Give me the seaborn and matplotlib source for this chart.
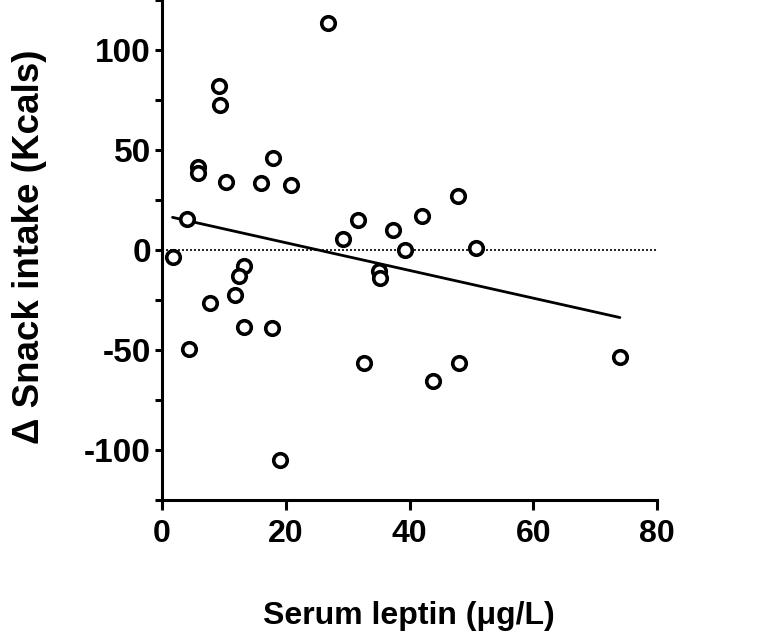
import numpy as np
import pandas as pd
import matplotlib
matplotlib.use("Agg")
import matplotlib.pyplot as plt
from matplotlib.ticker import MultipleLocator
import seaborn as sns

# Werte
leptin = [1.7, 4.0, 5.9, 5.8, 9.2, 9.3, 10.4, 16.0, 17.9, 20.9, 26.8,
          29.3, 31.6, 37.3, 42.1, 47.8, 39.3, 50.7, 35.1, 35.3, 13.3,
          12.4, 11.8, 7.8, 4.4, 13.2, 17.8, 19.0, 32.6, 43.8, 48.0, 74.0]
snack = [-3.7, 15.7, 41.6, 38.6, 81.8, 72.6, 34.1, 33.6, 46.2, 32.6, 113.4,
         5.5, 15.0, 10.2, 16.9, 27.2, -0.2, 1.0, -10.7, -14.2, -8.0,
         -13.0, -22.3, -26.4, -49.7, -38.3, -38.8, -105.1, -56.4, -65.6, -56.4, -53.7]
x_ticks = [0, 20, 40, 60, 80]
y_ticks = [-100, -50, 0, 50, 100]

df = pd.DataFrame({"leptin": leptin, "snack": snack})

sns.set_style("ticks")
plt.rcParams["font.family"] = ["Liberation Sans", "DejaVu Sans"]
plt.rcParams["font.weight"] = "bold"
plt.rcParams["axes.unicode_minus"] = False
for k in ["text.color", "axes.labelcolor", "xtick.color", "ytick.color", "axes.edgecolor"]:
    plt.rcParams[k] = "black"

fig = plt.figure(figsize=(7.63, 6.35), dpi=100)
ax = fig.add_axes([0.2123, 0.2126, 0.6488, 0.7874])

ax.axhline(0, color="black", lw=1.2, ls=(0, (1.2, 1.2)), zorder=1)

sns.regplot(data=df, x="leptin", y="snack", ax=ax, ci=None, truncate=True,
            scatter_kws=dict(s=95, facecolors="white", edgecolors="black",
                             linewidths=2.6, alpha=1, zorder=3),
            line_kws=dict(color="black", lw=2.0, zorder=2))

ax.set_xlim(0, 80)
ax.set_ylim(-125, 125)
ax.set_xticks(x_ticks)
ax.set_yticks(y_ticks)
ax.yaxis.set_minor_locator(MultipleLocator(25))

sns.despine(ax=ax)
for s in ["left", "bottom"]:
    ax.spines[s].set_linewidth(2.2)
ax.tick_params(axis="x", which="major", length=7, width=2.2, pad=7, labelsize=23)
ax.tick_params(axis="y", which="both", length=5, width=2.2, pad=3, labelsize=24)

ax.set_xlabel("Serum leptin (\u03bcg/L)", fontsize=23, fontweight="bold", va="center")
ax.set_ylabel("\u0394 Snack intake (Kcals)", fontsize=26.5, fontweight="bold", va="center")
ax.xaxis.set_label_coords(0.499, -0.232)
ax.yaxis.set_label_coords(-0.267, 0.507)

fig.savefig("out.png", dpi=100)
